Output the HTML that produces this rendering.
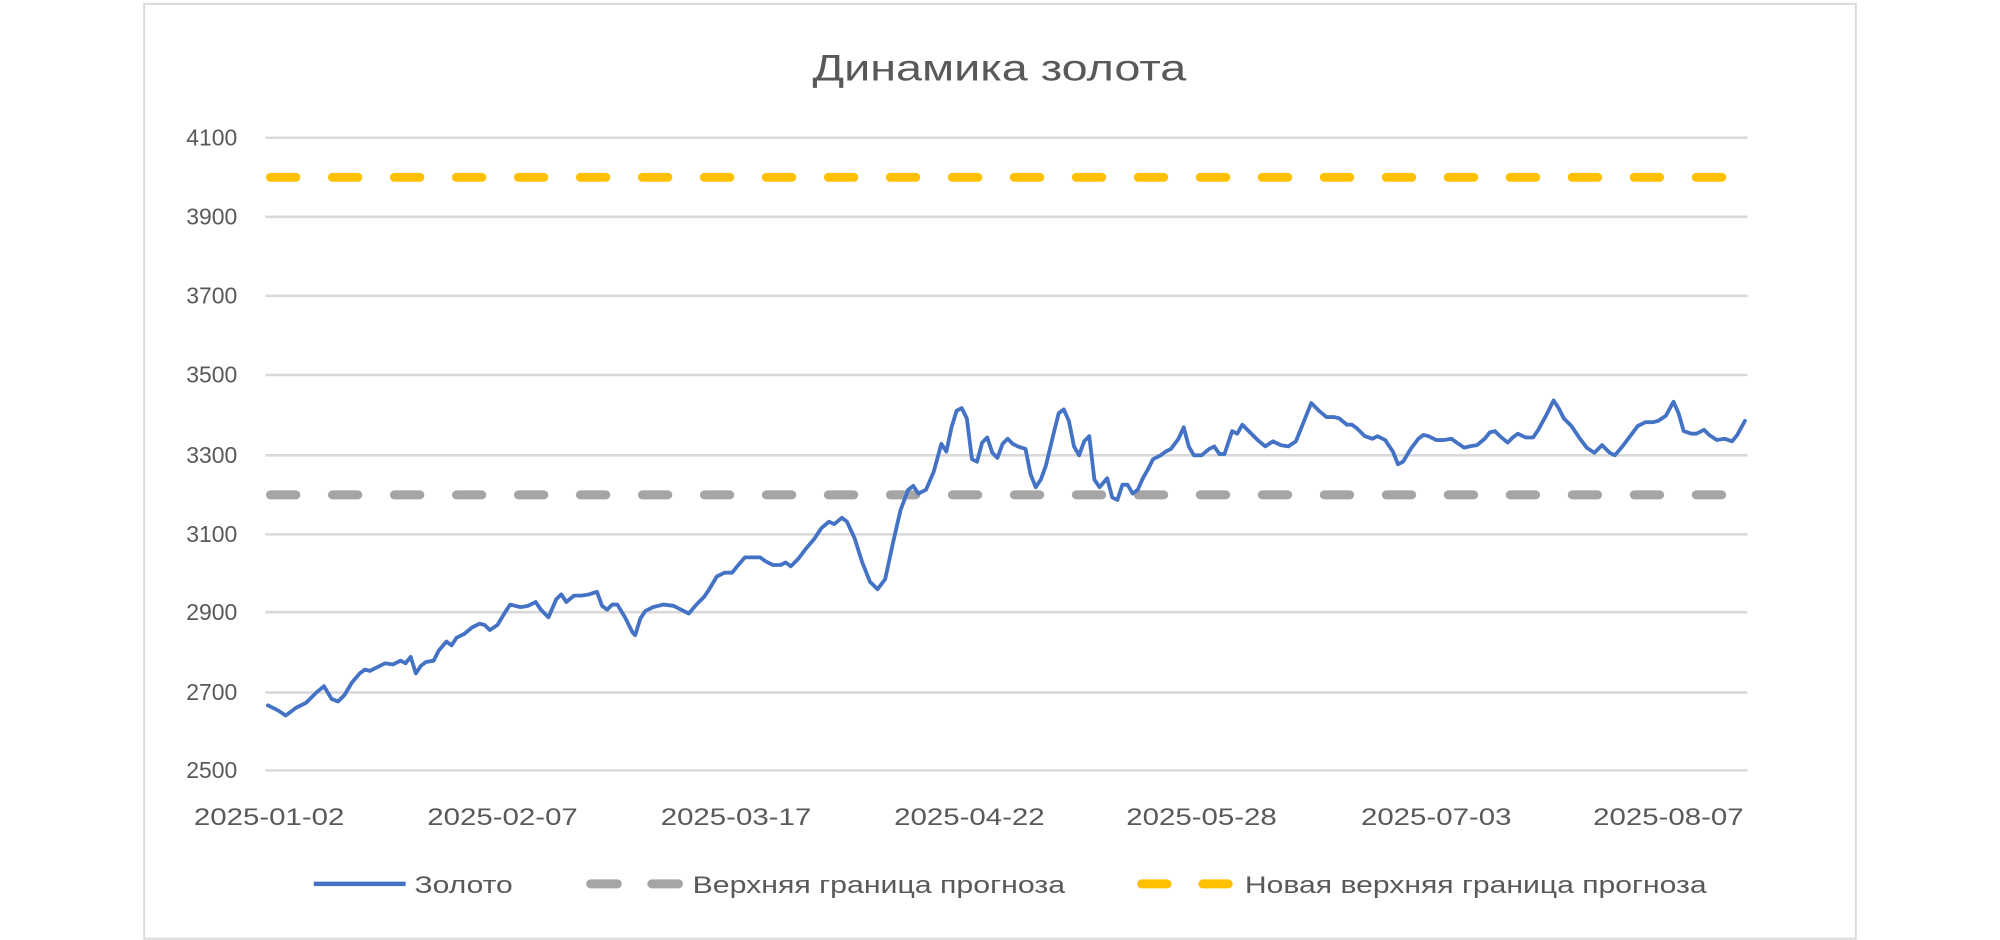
<!DOCTYPE html>
<html><head><meta charset="utf-8"><style>html,body{margin:0;padding:0;background:#fff}svg{display:block}</style></head>
<body>
<svg width="2000" height="940" viewBox="0 0 1568 737" preserveAspectRatio="none" xmlns="http://www.w3.org/2000/svg" font-family="'Liberation Sans', 'DejaVu Sans', sans-serif">
<rect x="0" y="0" width="1568" height="737" fill="#fff"/>
<rect x="113" y="3" width="1342" height="733" fill="none" stroke="#d9d9d9" stroke-width="1.5"/>
<text x="637" y="63" textLength="293" lengthAdjust="spacingAndGlyphs" font-size="29" fill="#595959">Динамика золота</text>
<g stroke="#d9d9d9" stroke-width="2">
<line x1="208" x2="1370" y1="108" y2="108"/><line x1="208" x2="1370" y1="170" y2="170"/>
<line x1="208" x2="1370" y1="232" y2="232"/><line x1="208" x2="1370" y1="294" y2="294"/>
<line x1="208" x2="1370" y1="357" y2="357"/><line x1="208" x2="1370" y1="419" y2="419"/>
<line x1="208" x2="1370" y1="480" y2="480"/><line x1="208" x2="1370" y1="543" y2="543"/>
<line x1="208" x2="1370" y1="604" y2="604"/>
</g>
<g font-size="18" fill="#595959" text-anchor="end">
<text x="186" y="114">4100</text><text x="186" y="176">3900</text><text x="186" y="238">3700</text>
<text x="186" y="300">3500</text><text x="186" y="363">3300</text><text x="186" y="425">3100</text>
<text x="186" y="486">2900</text><text x="186" y="549">2700</text><text x="186" y="610">2500</text>
</g>
<g font-size="19" fill="#595959" lengthAdjust="spacingAndGlyphs">
<text x="152" y="647" textLength="118" lengthAdjust="spacingAndGlyphs">2025-01-02</text>
<text x="335" y="647" textLength="118" lengthAdjust="spacingAndGlyphs">2025-02-07</text>
<text x="518" y="647" textLength="118" lengthAdjust="spacingAndGlyphs">2025-03-17</text>
<text x="701" y="647" textLength="118" lengthAdjust="spacingAndGlyphs">2025-04-22</text>
<text x="883" y="647" textLength="118" lengthAdjust="spacingAndGlyphs">2025-05-28</text>
<text x="1067" y="647" textLength="118" lengthAdjust="spacingAndGlyphs">2025-07-03</text>
<text x="1249" y="647" textLength="118" lengthAdjust="spacingAndGlyphs">2025-08-07</text>
</g>
<line x1="212" x2="1350" y1="388" y2="388" stroke="#a5a5a5" stroke-width="7" stroke-dasharray="20 28.6" stroke-linecap="round"/>
<line x1="212" x2="1350" y1="139" y2="139" stroke="#ffc000" stroke-width="7" stroke-dasharray="20 28.6" stroke-linecap="round"/>
<polyline fill="none" stroke="#4472c4" stroke-width="3" stroke-linejoin="round" stroke-linecap="round" points="210,553 218,557 224,561 232,555 240,551 248,543 254,538 260,548 265,550 270,545 276,535 282,528 286,525 290,526 296,523 302,520 308,521 314,518 318,520 322,515 326,528 330,522 334,519 340,518 344,510 350,503 354,506 358,500 364,497 370,492 376,489 380,490 384,494 390,490 396,480 400,474 408,476 414,475 420,472 424,478 430,484 436,470 440,466 444,472 450,467 456,467 462,466 468,464 472,475 476,478 480,474 484,474 490,484 496,496 498,498 502,485 506,479 512,476 520,474 528,475 534,478 540,481 546,474 552,468 556,462 562,452 568,449 574,449 578,444 584,437 590,437 596,437 600,440 606,443 612,443 616,441 620,444 626,438 632,430 638,423 644,414 650,409 654,411 660,406 664,409 670,422 676,441 682,456 688,462 694,454 700,426 706,400 712,384 716,381 720,387 726,384 732,370 738,348 742,354 746,335 750,322 754,320 758,328 762,360 766,362 770,347 774,343 778,355 782,359 786,348 790,344 794,348 798,350 804,352 808,372 812,382 816,376 820,365 826,340 830,324 834,321 838,330 842,350 846,357 850,346 854,342 858,376 862,382 868,375 872,390 876,392 880,380 884,380 888,387 892,384 896,375 900,368 904,360 910,357 914,354 918,352 924,344 928,335 932,350 936,357 942,357 948,352 952,350 956,356 960,356 966,338 970,340 974,333 980,339 986,345 992,350 998,346 1004,349 1010,350 1016,346 1022,331 1028,316 1034,322 1040,327 1046,327 1050,328 1056,333 1060,333 1064,336 1070,342 1076,344 1080,342 1086,345 1092,354 1096,364 1100,362 1106,352 1112,344 1116,341 1120,342 1126,345 1132,345 1138,344 1142,347 1148,351 1152,350 1158,349 1164,344 1168,339 1172,338 1176,342 1182,347 1186,343 1190,340 1196,343 1202,343 1206,337 1212,326 1218,314 1222,320 1226,328 1232,334 1238,343 1244,351 1250,355 1256,349 1262,355 1266,357 1272,350 1278,342 1284,334 1290,331 1296,331 1300,330 1306,326 1312,315 1316,324 1320,338 1326,340 1330,340 1336,337 1340,341 1346,345 1352,344 1358,346 1362,341 1368,330"/>
<g font-size="19" fill="#595959">
<line x1="246" x2="318" y1="693" y2="693" stroke="#4472c4" stroke-width="3.5"/>
<text x="325" y="700" textLength="77" lengthAdjust="spacingAndGlyphs">Золото</text>
<line x1="463" x2="484" y1="693" y2="693" stroke="#a5a5a5" stroke-width="7" stroke-linecap="round"/>
<line x1="511" x2="532" y1="693" y2="693" stroke="#a5a5a5" stroke-width="7" stroke-linecap="round"/>
<text x="543" y="700" textLength="292" lengthAdjust="spacingAndGlyphs">Верхняя граница прогноза</text>
<line x1="895" x2="915" y1="693" y2="693" stroke="#ffc000" stroke-width="7" stroke-linecap="round"/>
<line x1="943" x2="963" y1="693" y2="693" stroke="#ffc000" stroke-width="7" stroke-linecap="round"/>
<text x="976" y="700" textLength="362" lengthAdjust="spacingAndGlyphs">Новая верхняя граница прогноза</text>
</g>
</svg>
</body></html>
